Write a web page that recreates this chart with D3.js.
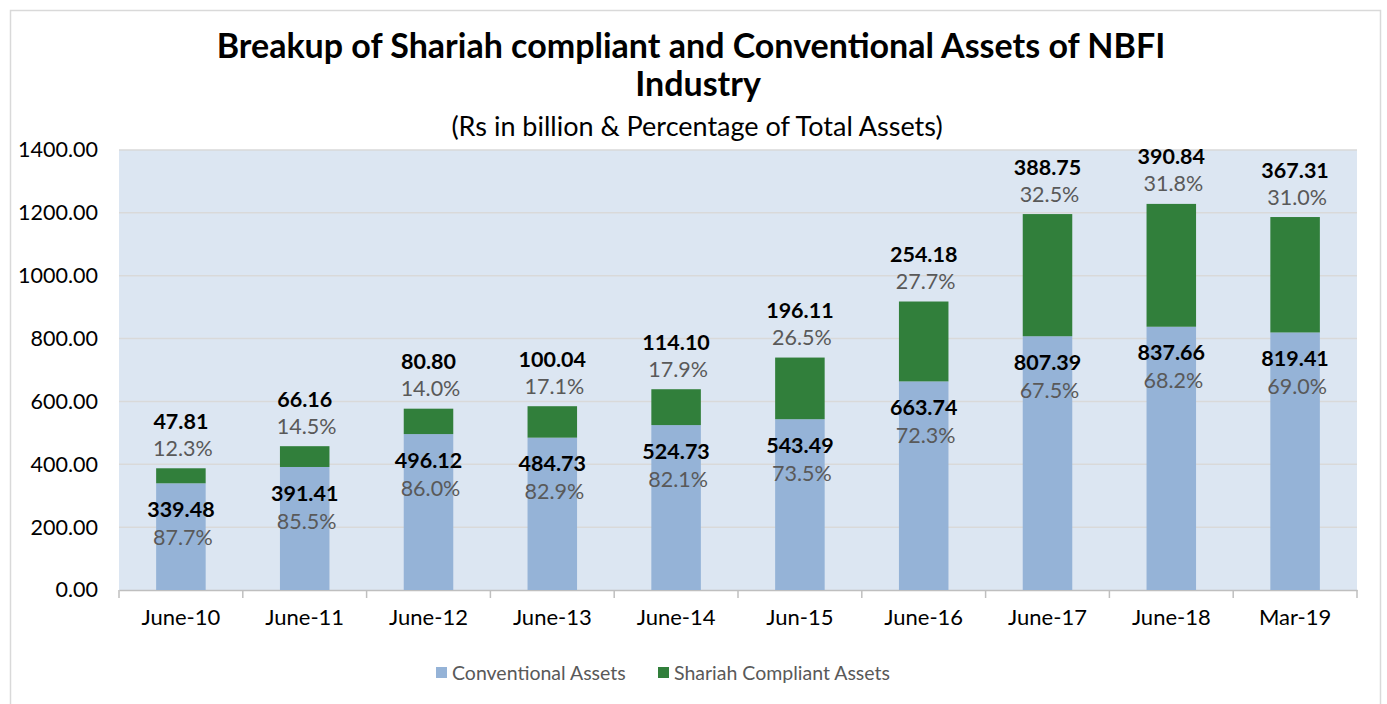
<!DOCTYPE html>
<html><head><meta charset="utf-8">
<script src="https://cdn.jsdelivr.net/npm/d3@7"></script>
<style>body{margin:0;background:#fff;} svg{display:block;font-family:Lato,"Open Sans",sans-serif;}</style>
</head><body><svg id="c" width="1387" height="704"></svg>
<script>
const categories = ["June-10","June-11","June-12","June-13","June-14","Jun-15","June-16","June-17","June-18","Mar-19"];
const conventional = [339.48,391.41,496.12,484.73,524.73,543.49,663.74,807.39,837.66,819.41];
const shariah = [47.81,66.16,80.80,100.04,114.10,196.11,254.18,388.75,390.84,367.31];
const conventionalPct = ["87.7%","85.5%","86.0%","82.9%","82.1%","73.5%","72.3%","67.5%","68.2%","69.0%"];
const shariahPct = ["12.3%","14.5%","14.0%","17.1%","17.9%","26.5%","27.7%","32.5%","31.8%","31.0%"];
const yTicks = [0,200,400,600,800,1000,1200,1400];
const seriesNames = ["Conventional Assets","Shariah Compliant Assets"];
const colors = ["#95b3d7","#317f3b"];

const svg = d3.select("#c");
svg.append("rect").attr("x",10.5).attr("y",10.5).attr("width",1370).attr("height",700)
  .attr("fill","#fff").attr("stroke","#d9d9d9").attr("stroke-width",1.5);

const L=119, R=1357, T=150, B=590;
const x = d3.scaleBand().domain(categories).range([L,R]).paddingInner(0.6).paddingOuter(0.3);
const xb = d3.scaleBand().domain(categories).range([L,R]);
const y = d3.scaleLinear().domain([0,1400]).range([B,T]);

svg.append("rect").attr("x",L).attr("y",T).attr("width",R-L).attr("height",B-T).attr("fill","#dce6f2");
svg.append("g").selectAll("line").data(yTicks.slice(1)).join("line")
  .attr("x1",L).attr("x2",R).attr("y1",d=>y(d)).attr("y2",d=>y(d))
  .attr("stroke","#d9d9d9").attr("stroke-width",1.5);

// y axis labels
const ya = svg.append("g").attr("transform",`translate(${L},0)`)
  .call(d3.axisLeft(y).tickValues(yTicks).tickFormat(d3.format(".2f")).tickSize(0).tickPadding(21));
ya.select(".domain").remove();
ya.selectAll("text").attr("font-size",21.5).attr("fill","#000").attr("font-family","Lato,sans-serif");

// x axis
const xa = svg.append("g").attr("transform",`translate(0,${B})`)
  .call(d3.axisBottom(xb).tickSize(0).tickPadding(19));
xa.select(".domain").attr("stroke","#bfbfbf").attr("stroke-width",1.5);
xa.selectAll("text").attr("font-size",22).attr("fill","#000").attr("font-family","Lato,sans-serif");
svg.append("g").selectAll("line").data(d3.range(categories.length+1)).join("line")
  .attr("x1",i=>L+i*xb.step()).attr("x2",i=>L+i*xb.step()).attr("y1",B).attr("y2",B+8)
  .attr("stroke","#bfbfbf").attr("stroke-width",1.5);

// bars
const data = categories.map((c,i)=>({c, conv:conventional[i], sh:shariah[i], cp:conventionalPct[i], sp:shariahPct[i]}));
const stack = d3.stack().keys(["conv","sh"])(data);
svg.append("g").selectAll("g").data(stack).join("g").attr("fill",(d,i)=>colors[i])
  .selectAll("rect").data(d=>d).join("rect")
  .attr("x",d=>x(d.data.c)).attr("width",x.bandwidth())
  .attr("y",d=>y(d[1])).attr("height",d=>y(d[0])-y(d[1]));

// labels
const lab = svg.append("g").attr("text-anchor","middle").attr("font-family","Lato,sans-serif");
data.forEach(d=>{
  const cx = x(d.c)+x.bandwidth()/2;
  const top = y(d.conv+d.sh), ct = y(d.conv);
  lab.append("text").attr("x",cx).attr("y",top-47).attr("dy","0.35em").attr("font-size",21.5).attr("font-weight","bold").attr("fill","#000").text(d.sh.toFixed(2));
  lab.append("text").attr("x",cx+2).attr("y",top-20).attr("dy","0.35em").attr("font-size",21.5).attr("fill","#595959").text(d.sp);
  lab.append("text").attr("x",cx).attr("y",ct+26).attr("dy","0.35em").attr("font-size",21.5).attr("font-weight","bold").attr("fill","#000").text(d.conv.toFixed(2));
  lab.append("text").attr("x",cx+2).attr("y",ct+54).attr("dy","0.35em").attr("font-size",21.5).attr("fill","#595959").text(d.cp);
});

// titles
svg.append("text").attr("x",691).attr("y",46).attr("dy","0.35em").attr("text-anchor","middle")
  .attr("font-size",34).attr("font-weight","bold").text("Breakup of Shariah compliant and Conventional Assets of NBFI");
svg.append("text").attr("x",698).attr("y",84).attr("dy","0.35em").attr("text-anchor","middle")
  .attr("font-size",34).attr("font-weight","bold").text("Industry");
svg.append("text").attr("x",697).attr("y",127).attr("dy","0.35em").attr("text-anchor","middle")
  .attr("font-size",27).text("(Rs in billion & Percentage of Total Assets)");

// legend
const lg = svg.append("g");
const lx = [436,658];
seriesNames.forEach((n,i)=>{
  lg.append("rect").attr("x",lx[i]).attr("y",667).attr("width",11).attr("height",11).attr("fill",colors[i]);
  lg.append("text").attr("x",lx[i]+16).attr("y",673).attr("dy","0.35em").attr("font-size",19.5).attr("fill","#595959").text(n);
});
</script></body></html>
